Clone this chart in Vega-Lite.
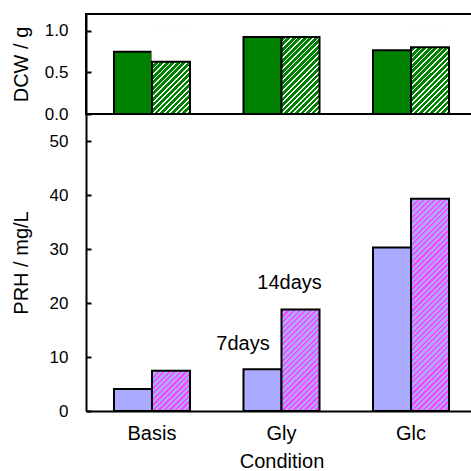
{
  "$schema": "https://vega.github.io/schema/vega-lite/v6.json",
  "padding": {"left": 10, "top": 13, "right": 0, "bottom": 0},
  "bounds": "flush",
  "spacing": 0,
  "datasets": {
    "main": [
      {"cond": "Basis", "day": "7 days", "dcw": 0.748, "prh": 4.07},
      {"cond": "Basis", "day": "14 days", "dcw": 0.628, "prh": 7.46},
      {"cond": "Gly", "day": "7 days", "dcw": 0.924, "prh": 7.72},
      {"cond": "Gly", "day": "14 days", "dcw": 0.924, "prh": 18.8},
      {"cond": "Glc", "day": "7 days", "dcw": 0.764, "prh": 30.3},
      {"cond": "Glc", "day": "14 days", "dcw": 0.8, "prh": 39.3}
    ]
  },
  "vconcat": [
    {
      "width": 391,
      "height": 100,
      "view": {"stroke": "black", "strokeWidth": 2},
      "data": {"name": "main"},
      "encoding": {
        "x": {"field": "cond", "type": "nominal", "axis": null, "sort": ["Basis", "Gly", "Glc"], "scale": {"domain": ["Basis", "Gly", "Glc"], "paddingInner": 0.413, "paddingOuter": 0.216}},
        "xOffset": {"field": "day", "type": "nominal", "scale": {"domain": ["7 days", "14 days"]}}
      },
      "layer": [
        {
          "transform": [{"filter": "datum.day === '7 days'"}],
          "mark": {"type": "bar", "fill": "#008000", "stroke": "black", "strokeWidth": 2},
          "encoding": {
            "y": {"field": "dcw", "type": "quantitative", "scale": {"domain": [0, 1.2], "nice": false}, "axis": {"title": "DCW / g", "values": [0, 0.5, 1], "format": ".1f"}}
          }
        },
        {
          "transform": [{"filter": "datum.day === '14 days'"}],
          "mark": {"type": "bar", "strokeWidth": 0, "fill": {"gradient": "linear", "x1": 0, "y1": 0, "x2": 0.5497, "y2": 1.2053, "stops": [
            {"offset": 0, "color": "#ffffff"}, {"offset": 0.0136, "color": "#ffffff"}, {"offset": 0.0136, "color": "#008000"}, {"offset": 0.0455, "color": "#008000"},
            {"offset": 0.0455, "color": "#ffffff"}, {"offset": 0.0591, "color": "#ffffff"}, {"offset": 0.0591, "color": "#008000"}, {"offset": 0.0909, "color": "#008000"},
            {"offset": 0.0909, "color": "#ffffff"}, {"offset": 0.1045, "color": "#ffffff"}, {"offset": 0.1045, "color": "#008000"}, {"offset": 0.1364, "color": "#008000"},
            {"offset": 0.1364, "color": "#ffffff"}, {"offset": 0.15, "color": "#ffffff"}, {"offset": 0.15, "color": "#008000"}, {"offset": 0.1818, "color": "#008000"},
            {"offset": 0.1818, "color": "#ffffff"}, {"offset": 0.1955, "color": "#ffffff"}, {"offset": 0.1955, "color": "#008000"}, {"offset": 0.2273, "color": "#008000"},
            {"offset": 0.2273, "color": "#ffffff"}, {"offset": 0.2409, "color": "#ffffff"}, {"offset": 0.2409, "color": "#008000"}, {"offset": 0.2727, "color": "#008000"},
            {"offset": 0.2727, "color": "#ffffff"}, {"offset": 0.2864, "color": "#ffffff"}, {"offset": 0.2864, "color": "#008000"}, {"offset": 0.3182, "color": "#008000"},
            {"offset": 0.3182, "color": "#ffffff"}, {"offset": 0.3318, "color": "#ffffff"}, {"offset": 0.3318, "color": "#008000"}, {"offset": 0.3636, "color": "#008000"},
            {"offset": 0.3636, "color": "#ffffff"}, {"offset": 0.3773, "color": "#ffffff"}, {"offset": 0.3773, "color": "#008000"}, {"offset": 0.4091, "color": "#008000"},
            {"offset": 0.4091, "color": "#ffffff"}, {"offset": 0.4227, "color": "#ffffff"}, {"offset": 0.4227, "color": "#008000"}, {"offset": 0.4545, "color": "#008000"},
            {"offset": 0.4545, "color": "#ffffff"}, {"offset": 0.4682, "color": "#ffffff"}, {"offset": 0.4682, "color": "#008000"}, {"offset": 0.5, "color": "#008000"},
            {"offset": 0.5, "color": "#ffffff"}, {"offset": 0.5136, "color": "#ffffff"}, {"offset": 0.5136, "color": "#008000"}, {"offset": 0.5455, "color": "#008000"},
            {"offset": 0.5455, "color": "#ffffff"}, {"offset": 0.5591, "color": "#ffffff"}, {"offset": 0.5591, "color": "#008000"}, {"offset": 0.5909, "color": "#008000"},
            {"offset": 0.5909, "color": "#ffffff"}, {"offset": 0.6045, "color": "#ffffff"}, {"offset": 0.6045, "color": "#008000"}, {"offset": 0.6364, "color": "#008000"},
            {"offset": 0.6364, "color": "#ffffff"}, {"offset": 0.65, "color": "#ffffff"}, {"offset": 0.65, "color": "#008000"}, {"offset": 0.6818, "color": "#008000"},
            {"offset": 0.6818, "color": "#ffffff"}, {"offset": 0.6955, "color": "#ffffff"}, {"offset": 0.6955, "color": "#008000"}, {"offset": 0.7273, "color": "#008000"},
            {"offset": 0.7273, "color": "#ffffff"}, {"offset": 0.7409, "color": "#ffffff"}, {"offset": 0.7409, "color": "#008000"}, {"offset": 0.7727, "color": "#008000"},
            {"offset": 0.7727, "color": "#ffffff"}, {"offset": 0.7864, "color": "#ffffff"}, {"offset": 0.7864, "color": "#008000"}, {"offset": 0.8182, "color": "#008000"},
            {"offset": 0.8182, "color": "#ffffff"}, {"offset": 0.8318, "color": "#ffffff"}, {"offset": 0.8318, "color": "#008000"}, {"offset": 0.8636, "color": "#008000"},
            {"offset": 0.8636, "color": "#ffffff"}, {"offset": 0.8773, "color": "#ffffff"}, {"offset": 0.8773, "color": "#008000"}, {"offset": 0.9091, "color": "#008000"},
            {"offset": 0.9091, "color": "#ffffff"}, {"offset": 0.9227, "color": "#ffffff"}, {"offset": 0.9227, "color": "#008000"}, {"offset": 0.9545, "color": "#008000"},
            {"offset": 0.9545, "color": "#ffffff"}, {"offset": 0.9682, "color": "#ffffff"}, {"offset": 0.9682, "color": "#008000"}, {"offset": 1, "color": "#008000"}
          ]}},
          "encoding": {
            "y": {"datum": 1},
            "y2": {"datum": 0}
          }
        },
        {
          "transform": [{"filter": "datum.day === '14 days'"}],
          "mark": {"type": "bar", "fill": "white", "stroke": "white", "strokeWidth": 1},
          "encoding": {
            "y": {"field": "dcw", "type": "quantitative"},
            "y2": {"datum": 1}
          }
        },
        {
          "transform": [{"filter": "datum.day === '14 days'"}],
          "mark": {"type": "bar", "filled": false, "stroke": "black", "strokeWidth": 2},
          "encoding": {
            "y": {"field": "dcw", "type": "quantitative"}
          }
        }
      ]
    },
    {
      "width": 391,
      "height": 297,
      "data": {"name": "main"},
      "encoding": {
        "x": {"field": "cond", "type": "nominal", "sort": ["Basis", "Gly", "Glc"], "scale": {"domain": ["Basis", "Gly", "Glc"], "paddingInner": 0.413, "paddingOuter": 0.216}, "axis": {"title": "Condition", "labelAngle": 0, "ticks": false, "labelPadding": 12.5, "labelFontSize": 20, "titleY": 40.5, "titleBaseline": "top"}},
        "xOffset": {"field": "day", "type": "nominal", "scale": {"domain": ["7 days", "14 days"]}}
      },
      "layer": [
        {
          "transform": [{"filter": "datum.day === '7 days'"}],
          "mark": {"type": "bar", "fill": "#aaaaff", "stroke": "black", "strokeWidth": 2},
          "encoding": {
            "y": {"field": "prh", "type": "quantitative", "scale": {"domain": [0, 55], "nice": false}, "axis": {"title": "PRH / mg/L", "values": [0, 10, 20, 30, 40, 50]}}
          }
        },
        {
          "transform": [{"filter": "datum.day === '14 days'"}],
          "mark": {"type": "bar", "strokeWidth": 0, "fill": {"gradient": "linear", "x1": 0, "y1": 0, "x2": 0.2007, "y2": 1.1406, "stops": [
            {"offset": 0, "color": "#ff40ff"}, {"offset": 0.0087, "color": "#ff40ff"}, {"offset": 0.0087, "color": "#aaaaff"}, {"offset": 0.0217, "color": "#aaaaff"},
            {"offset": 0.0217, "color": "#ff40ff"}, {"offset": 0.0304, "color": "#ff40ff"}, {"offset": 0.0304, "color": "#aaaaff"}, {"offset": 0.0435, "color": "#aaaaff"},
            {"offset": 0.0435, "color": "#ff40ff"}, {"offset": 0.0522, "color": "#ff40ff"}, {"offset": 0.0522, "color": "#aaaaff"}, {"offset": 0.0652, "color": "#aaaaff"},
            {"offset": 0.0652, "color": "#ff40ff"}, {"offset": 0.0739, "color": "#ff40ff"}, {"offset": 0.0739, "color": "#aaaaff"}, {"offset": 0.087, "color": "#aaaaff"},
            {"offset": 0.087, "color": "#ff40ff"}, {"offset": 0.0957, "color": "#ff40ff"}, {"offset": 0.0957, "color": "#aaaaff"}, {"offset": 0.1087, "color": "#aaaaff"},
            {"offset": 0.1087, "color": "#ff40ff"}, {"offset": 0.1174, "color": "#ff40ff"}, {"offset": 0.1174, "color": "#aaaaff"}, {"offset": 0.1304, "color": "#aaaaff"},
            {"offset": 0.1304, "color": "#ff40ff"}, {"offset": 0.1391, "color": "#ff40ff"}, {"offset": 0.1391, "color": "#aaaaff"}, {"offset": 0.1522, "color": "#aaaaff"},
            {"offset": 0.1522, "color": "#ff40ff"}, {"offset": 0.1609, "color": "#ff40ff"}, {"offset": 0.1609, "color": "#aaaaff"}, {"offset": 0.1739, "color": "#aaaaff"},
            {"offset": 0.1739, "color": "#ff40ff"}, {"offset": 0.1826, "color": "#ff40ff"}, {"offset": 0.1826, "color": "#aaaaff"}, {"offset": 0.1957, "color": "#aaaaff"},
            {"offset": 0.1957, "color": "#ff40ff"}, {"offset": 0.2043, "color": "#ff40ff"}, {"offset": 0.2043, "color": "#aaaaff"}, {"offset": 0.2174, "color": "#aaaaff"},
            {"offset": 0.2174, "color": "#ff40ff"}, {"offset": 0.2261, "color": "#ff40ff"}, {"offset": 0.2261, "color": "#aaaaff"}, {"offset": 0.2391, "color": "#aaaaff"},
            {"offset": 0.2391, "color": "#ff40ff"}, {"offset": 0.2478, "color": "#ff40ff"}, {"offset": 0.2478, "color": "#aaaaff"}, {"offset": 0.2609, "color": "#aaaaff"},
            {"offset": 0.2609, "color": "#ff40ff"}, {"offset": 0.2696, "color": "#ff40ff"}, {"offset": 0.2696, "color": "#aaaaff"}, {"offset": 0.2826, "color": "#aaaaff"},
            {"offset": 0.2826, "color": "#ff40ff"}, {"offset": 0.2913, "color": "#ff40ff"}, {"offset": 0.2913, "color": "#aaaaff"}, {"offset": 0.3043, "color": "#aaaaff"},
            {"offset": 0.3043, "color": "#ff40ff"}, {"offset": 0.313, "color": "#ff40ff"}, {"offset": 0.313, "color": "#aaaaff"}, {"offset": 0.3261, "color": "#aaaaff"},
            {"offset": 0.3261, "color": "#ff40ff"}, {"offset": 0.3348, "color": "#ff40ff"}, {"offset": 0.3348, "color": "#aaaaff"}, {"offset": 0.3478, "color": "#aaaaff"},
            {"offset": 0.3478, "color": "#ff40ff"}, {"offset": 0.3565, "color": "#ff40ff"}, {"offset": 0.3565, "color": "#aaaaff"}, {"offset": 0.3696, "color": "#aaaaff"},
            {"offset": 0.3696, "color": "#ff40ff"}, {"offset": 0.3783, "color": "#ff40ff"}, {"offset": 0.3783, "color": "#aaaaff"}, {"offset": 0.3913, "color": "#aaaaff"},
            {"offset": 0.3913, "color": "#ff40ff"}, {"offset": 0.4, "color": "#ff40ff"}, {"offset": 0.4, "color": "#aaaaff"}, {"offset": 0.413, "color": "#aaaaff"},
            {"offset": 0.413, "color": "#ff40ff"}, {"offset": 0.4217, "color": "#ff40ff"}, {"offset": 0.4217, "color": "#aaaaff"}, {"offset": 0.4348, "color": "#aaaaff"},
            {"offset": 0.4348, "color": "#ff40ff"}, {"offset": 0.4435, "color": "#ff40ff"}, {"offset": 0.4435, "color": "#aaaaff"}, {"offset": 0.4565, "color": "#aaaaff"},
            {"offset": 0.4565, "color": "#ff40ff"}, {"offset": 0.4652, "color": "#ff40ff"}, {"offset": 0.4652, "color": "#aaaaff"}, {"offset": 0.4783, "color": "#aaaaff"},
            {"offset": 0.4783, "color": "#ff40ff"}, {"offset": 0.487, "color": "#ff40ff"}, {"offset": 0.487, "color": "#aaaaff"}, {"offset": 0.5, "color": "#aaaaff"},
            {"offset": 0.5, "color": "#ff40ff"}, {"offset": 0.5087, "color": "#ff40ff"}, {"offset": 0.5087, "color": "#aaaaff"}, {"offset": 0.5217, "color": "#aaaaff"},
            {"offset": 0.5217, "color": "#ff40ff"}, {"offset": 0.5304, "color": "#ff40ff"}, {"offset": 0.5304, "color": "#aaaaff"}, {"offset": 0.5435, "color": "#aaaaff"},
            {"offset": 0.5435, "color": "#ff40ff"}, {"offset": 0.5522, "color": "#ff40ff"}, {"offset": 0.5522, "color": "#aaaaff"}, {"offset": 0.5652, "color": "#aaaaff"},
            {"offset": 0.5652, "color": "#ff40ff"}, {"offset": 0.5739, "color": "#ff40ff"}, {"offset": 0.5739, "color": "#aaaaff"}, {"offset": 0.587, "color": "#aaaaff"},
            {"offset": 0.587, "color": "#ff40ff"}, {"offset": 0.5957, "color": "#ff40ff"}, {"offset": 0.5957, "color": "#aaaaff"}, {"offset": 0.6087, "color": "#aaaaff"},
            {"offset": 0.6087, "color": "#ff40ff"}, {"offset": 0.6174, "color": "#ff40ff"}, {"offset": 0.6174, "color": "#aaaaff"}, {"offset": 0.6304, "color": "#aaaaff"},
            {"offset": 0.6304, "color": "#ff40ff"}, {"offset": 0.6391, "color": "#ff40ff"}, {"offset": 0.6391, "color": "#aaaaff"}, {"offset": 0.6522, "color": "#aaaaff"},
            {"offset": 0.6522, "color": "#ff40ff"}, {"offset": 0.6609, "color": "#ff40ff"}, {"offset": 0.6609, "color": "#aaaaff"}, {"offset": 0.6739, "color": "#aaaaff"},
            {"offset": 0.6739, "color": "#ff40ff"}, {"offset": 0.6826, "color": "#ff40ff"}, {"offset": 0.6826, "color": "#aaaaff"}, {"offset": 0.6957, "color": "#aaaaff"},
            {"offset": 0.6957, "color": "#ff40ff"}, {"offset": 0.7043, "color": "#ff40ff"}, {"offset": 0.7043, "color": "#aaaaff"}, {"offset": 0.7174, "color": "#aaaaff"},
            {"offset": 0.7174, "color": "#ff40ff"}, {"offset": 0.7261, "color": "#ff40ff"}, {"offset": 0.7261, "color": "#aaaaff"}, {"offset": 0.7391, "color": "#aaaaff"},
            {"offset": 0.7391, "color": "#ff40ff"}, {"offset": 0.7478, "color": "#ff40ff"}, {"offset": 0.7478, "color": "#aaaaff"}, {"offset": 0.7609, "color": "#aaaaff"},
            {"offset": 0.7609, "color": "#ff40ff"}, {"offset": 0.7696, "color": "#ff40ff"}, {"offset": 0.7696, "color": "#aaaaff"}, {"offset": 0.7826, "color": "#aaaaff"},
            {"offset": 0.7826, "color": "#ff40ff"}, {"offset": 0.7913, "color": "#ff40ff"}, {"offset": 0.7913, "color": "#aaaaff"}, {"offset": 0.8043, "color": "#aaaaff"},
            {"offset": 0.8043, "color": "#ff40ff"}, {"offset": 0.813, "color": "#ff40ff"}, {"offset": 0.813, "color": "#aaaaff"}, {"offset": 0.8261, "color": "#aaaaff"},
            {"offset": 0.8261, "color": "#ff40ff"}, {"offset": 0.8348, "color": "#ff40ff"}, {"offset": 0.8348, "color": "#aaaaff"}, {"offset": 0.8478, "color": "#aaaaff"},
            {"offset": 0.8478, "color": "#ff40ff"}, {"offset": 0.8565, "color": "#ff40ff"}, {"offset": 0.8565, "color": "#aaaaff"}, {"offset": 0.8696, "color": "#aaaaff"},
            {"offset": 0.8696, "color": "#ff40ff"}, {"offset": 0.8783, "color": "#ff40ff"}, {"offset": 0.8783, "color": "#aaaaff"}, {"offset": 0.8913, "color": "#aaaaff"},
            {"offset": 0.8913, "color": "#ff40ff"}, {"offset": 0.9, "color": "#ff40ff"}, {"offset": 0.9, "color": "#aaaaff"}, {"offset": 0.913, "color": "#aaaaff"},
            {"offset": 0.913, "color": "#ff40ff"}, {"offset": 0.9217, "color": "#ff40ff"}, {"offset": 0.9217, "color": "#aaaaff"}, {"offset": 0.9348, "color": "#aaaaff"},
            {"offset": 0.9348, "color": "#ff40ff"}, {"offset": 0.9435, "color": "#ff40ff"}, {"offset": 0.9435, "color": "#aaaaff"}, {"offset": 0.9565, "color": "#aaaaff"},
            {"offset": 0.9565, "color": "#ff40ff"}, {"offset": 0.9652, "color": "#ff40ff"}, {"offset": 0.9652, "color": "#aaaaff"}, {"offset": 0.9783, "color": "#aaaaff"},
            {"offset": 0.9783, "color": "#ff40ff"}, {"offset": 0.987, "color": "#ff40ff"}, {"offset": 0.987, "color": "#aaaaff"}, {"offset": 1, "color": "#aaaaff"}
          ]}},
          "encoding": {
            "y": {"datum": 40},
            "y2": {"datum": 0}
          }
        },
        {
          "transform": [{"filter": "datum.day === '14 days'"}],
          "mark": {"type": "bar", "fill": "white", "stroke": "white", "strokeWidth": 1},
          "encoding": {
            "y": {"field": "prh", "type": "quantitative"},
            "y2": {"datum": 40}
          }
        },
        {
          "transform": [{"filter": "datum.day === '14 days'"}],
          "mark": {"type": "bar", "filled": false, "stroke": "black", "strokeWidth": 2},
          "encoding": {
            "y": {"field": "prh", "type": "quantitative"}
          }
        },
        {
          "data": {"values": [{}]},
          "mark": {"type": "text", "text": "7days", "fontSize": 20, "baseline": "alphabetic", "align": "center", "dx": -19.5},
          "encoding": {
            "x": {"datum": "Gly"},
            "xOffset": {"datum": "7 days"},
            "y": {"datum": 11.3}
          }
        },
        {
          "data": {"values": [{}]},
          "mark": {"type": "text", "text": "14days", "fontSize": 20, "baseline": "alphabetic", "align": "center", "dx": -11},
          "encoding": {
            "x": {"datum": "Gly"},
            "xOffset": {"datum": "14 days"},
            "y": {"datum": 22.6}
          }
        }
      ]
    }
  ],
  "config": {
    "font": "Liberation Sans",
    "view": {"stroke": null},
    "axis": {"labelColor": "black", "titleColor": "black", "domainColor": "black", "domainWidth": 2, "tickColor": "black", "tickWidth": 2, "grid": false, "labelFontSize": 17, "titleFontSize": 20, "titleFontWeight": "normal"},
    "axisY": {"tickSize": -5, "labelPadding": 23, "titleX": -65, "titleBaseline": "middle"}
  }
}
